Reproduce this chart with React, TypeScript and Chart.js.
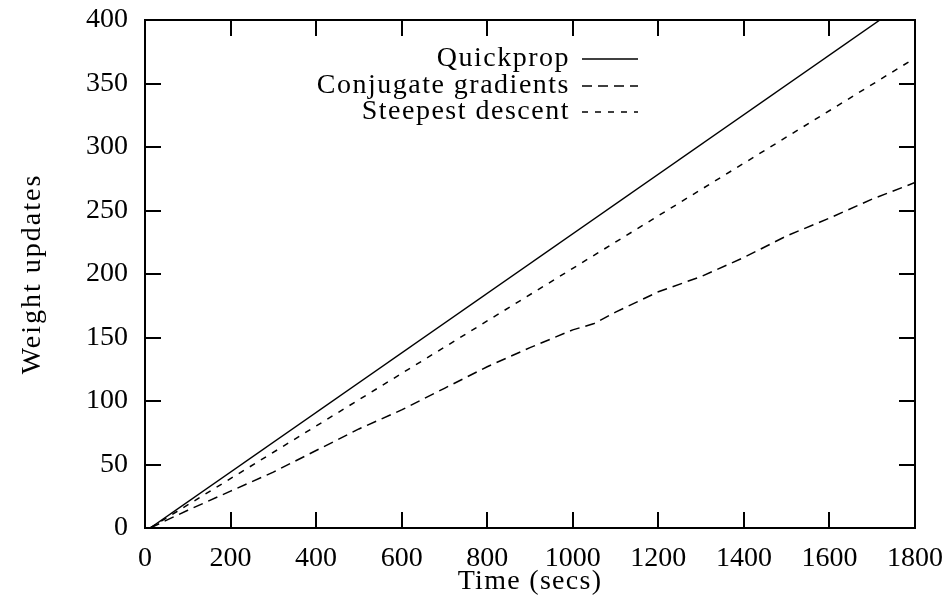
import { useEffect, useRef } from "react";
import { Chart, registerables } from "chart.js";

Chart.register(...registerables);

// Axis ranges and tick values
const xTickValues = [0, 200, 400, 600, 800, 1000, 1200, 1400, 1600, 1800];
const yTickValues = [0, 50, 100, 150, 200, 250, 300, 350, 400];

// Series: elapsed time (secs) vs. number of weight updates
const quickpropTime = [12, 1718];
const quickpropUpdates = [0, 400];

const conjugateTime = [12, 100, 200, 300, 400, 500, 600, 700, 800, 900, 1000, 1050, 1100, 1200, 1300, 1400, 1500, 1600, 1700, 1800];
const conjugateUpdates = [0, 14, 29, 44, 61, 78, 93, 110, 127, 142, 156, 161, 170, 186, 198, 213, 230, 244, 259, 272];

const steepestTime = [12, 1800];
const steepestUpdates = [0, 370];

const seriesNames = ["Quickprop", "Conjugate gradients", "Steepest descent"];
const seriesDashes: number[][] = [[], [10, 6], [6, 7]];
const xTitle = "Time (secs)";
const yTitle = "Weight updates";

const FONT_FAMILY = "'Liberation Serif', 'Times New Roman', serif";
const FONT_SIZE = 28;

const toPoints = (xs: number[], ys: number[]) => xs.map((x, i) => ({ x, y: ys[i] }));

// Frame with inward ticks on all four sides, axis titles and the key
const framePlugin = {
  id: "frameAndKey",
  afterDatasetsDraw(chart: any) {
    const { ctx, chartArea, scales } = chart;
    const { left, right, top, bottom } = chartArea;
    const xs = scales.x;
    const ys = scales.y;
    const tickLen = 16;
    ctx.save();
    ctx.strokeStyle = "#000";
    ctx.lineWidth = 2;
    ctx.setLineDash([]);
    ctx.strokeRect(left, top, right - left, bottom - top);
    ctx.beginPath();
    xTickValues.slice(1, -1).forEach((v) => {
      const px = Math.round(xs.getPixelForValue(v));
      ctx.moveTo(px, bottom);
      ctx.lineTo(px, bottom - tickLen);
      ctx.moveTo(px, top);
      ctx.lineTo(px, top + tickLen);
    });
    yTickValues.slice(1, -1).forEach((v) => {
      const py = Math.round(ys.getPixelForValue(v));
      ctx.moveTo(left, py);
      ctx.lineTo(left + tickLen, py);
      ctx.moveTo(right, py);
      ctx.lineTo(right - tickLen, py);
    });
    ctx.stroke();

    // axis titles
    ctx.fillStyle = "#000";
    ctx.font = `${FONT_SIZE}px ${FONT_FAMILY}`;
    ctx.textAlign = "center";
    ctx.textBaseline = "middle";
    ctx.letterSpacing = "1.3px";
    ctx.fillText(xTitle, (left + right) / 2, 582);
    ctx.save();
    ctx.letterSpacing = "2px";
    ctx.translate(33, (top + bottom) / 2);
    ctx.rotate(-Math.PI / 2);
    ctx.fillText(yTitle, 0, 0);
    ctx.restore();

    // key
    const textRight = 570;
    const sampleStart = 582;
    const sampleEnd = 638;
    const rowY = [59, 86, 112];
    ctx.textAlign = "right";
    ctx.letterSpacing = "1.5px";
    seriesNames.forEach((name, i) => {
      ctx.fillText(name, textRight, rowY[i]);
      ctx.beginPath();
      ctx.lineWidth = 1.5;
      ctx.setLineDash(seriesDashes[i]);
      ctx.moveTo(sampleStart, rowY[i]);
      ctx.lineTo(sampleEnd, rowY[i]);
      ctx.stroke();
    });
    ctx.restore();
  },
};

// Keep the plot box fixed: no extra room reserved for overhanging tick labels
const clearLabelOverhang = (scale: any) => {
  scale.paddingTop = 0;
  scale.paddingBottom = 0;
  scale.paddingLeft = 0;
  scale.paddingRight = 0;
};

export default function App() {
  const canvasRef = useRef<HTMLCanvasElement | null>(null);

  useEffect(() => {
    document.body.style.margin = "0";
    const canvas = canvasRef.current;
    if (!canvas) return;
    const lineStyle = (dash: number[]) => ({
      borderColor: "#000",
      backgroundColor: "#000",
      borderWidth: 1.5,
      borderDash: dash,
      pointRadius: 0,
      tension: 0,
      fill: false,
    });
    const chart = new Chart(canvas, {
      type: "line",
      data: {
        datasets: [
          { label: seriesNames[0], data: toPoints(quickpropTime, quickpropUpdates), ...lineStyle(seriesDashes[0]) },
          { label: seriesNames[1], data: toPoints(conjugateTime, conjugateUpdates), ...lineStyle(seriesDashes[1]) },
          { label: seriesNames[2], data: toPoints(steepestTime, steepestUpdates), ...lineStyle(seriesDashes[2]) },
        ],
      },
      options: {
        animation: false,
        responsive: false,
        layout: { padding: { left: 0, right: 33, top: 20, bottom: 0 } },
        plugins: { legend: { display: false }, tooltip: { enabled: false } },
        scales: {
          x: {
            type: "linear",
            min: 0,
            max: 1800,
            afterFit: (scale: any) => {
              scale.height = 72;
              clearLabelOverhang(scale);
            },
            afterBuildTicks: (scale: any) => {
              scale.ticks = xTickValues.map((value) => ({ value }));
            },
            grid: { display: false, drawTicks: false },
            border: { display: false },
            ticks: {
              autoSkip: false,
              maxRotation: 0,
              padding: 14,
              color: "#000",
              font: { family: FONT_FAMILY, size: FONT_SIZE },
              callback: (value: any) => String(value),
            },
          },
          y: {
            type: "linear",
            min: 0,
            max: 400,
            afterFit: (scale: any) => {
              scale.width = 145;
              clearLabelOverhang(scale);
            },
            afterBuildTicks: (scale: any) => {
              scale.ticks = yTickValues.map((value) => ({ value }));
            },
            grid: { display: false, drawTicks: false },
            border: { display: false },
            ticks: {
              autoSkip: false,
              padding: 17,
              color: "#000",
              font: { family: FONT_FAMILY, size: FONT_SIZE },
              callback: (value: any) => String(value),
            },
          },
        },
      },
      plugins: [framePlugin],
    });
    return () => chart.destroy();
  }, []);

  return (
    <div style={{ width: 948, height: 600, background: "#fff" }}>
      <canvas ref={canvasRef} width={948} height={600} style={{ display: "block" }} />
    </div>
  );
}
